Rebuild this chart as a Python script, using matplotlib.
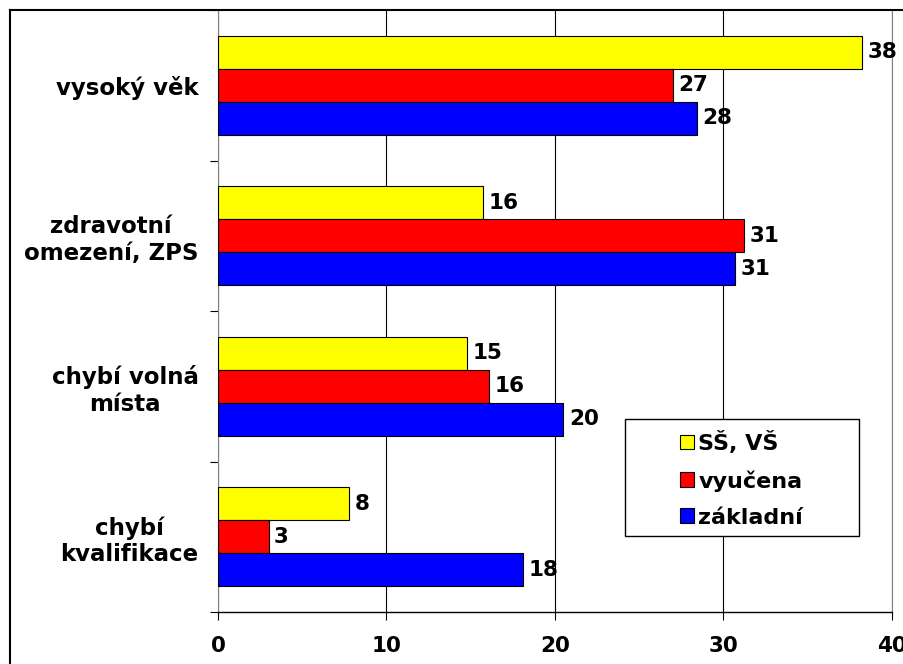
import matplotlib.pyplot as plt
from matplotlib.lines import Line2D
from matplotlib.patches import Rectangle

categories = ["vysoký věk", "zdravotní\nomezení, ZPS", "chybí volná\nmísta", "chybí\nkvalifikace"]
series = ["SŠ, VŠ", "vyučena", "základní"]
ss_vs = [38.2, 15.7, 14.8, 7.8]
vyucena = [27.0, 31.2, 16.1, 3.0]
zakladni = [28.4, 30.7, 20.5, 18.1]
colors = ["#ffff00", "#ff0000", "#0000ff"]
xticks = [0, 10, 20, 30, 40]

plt.rcParams["font.family"] = "DejaVu Sans"
plt.rcParams["font.weight"] = "bold"

W, H = 904, 664
fig = plt.figure(figsize=(W / 100, H / 100), dpi=100)
ax = fig.add_axes([218 / W, 1 - 612 / H, (892 - 218) / W, (612 - 10) / H])

h = 0.22
offsets = [-h, 0, h]
for vals, off, col, name in zip([ss_vs, vyucena, zakladni], offsets, colors, series):
    ys = [i + 0.5 + off for i in range(len(categories))]
    ax.barh(ys, vals, height=h, color=col, edgecolor="black", linewidth=0.8, label=name, zorder=3)
    for y, v in zip(ys, vals):
        ax.annotate(str(round(v)), (v, y), xytext=(4, 0), textcoords="offset points",
                    ha="left", va="center", fontsize=15.5, fontweight="bold", zorder=4)

ax.set_xlim(0, 40)
ax.set_ylim(4, 0)
ax.set_xticks(xticks)
ax.set_xticklabels([str(t) for t in xticks], fontsize=15.5, fontweight="bold")
ax.set_yticks([0, 1, 2, 3, 4])
ax.set_yticklabels([])
ax.set_yticks([i + 0.5 for i in range(len(categories))], categories, minor=True)
for lab in ax.get_yticklabels(minor=True):
    lab.set_multialignment("center")
    lab.set_fontsize(16.5)
    lab.set_fontweight("bold")
ax.tick_params(axis="y", which="minor", length=0, pad=14)
ax.tick_params(axis="y", which="major", length=6, direction="out", width=0.8)
ax.tick_params(axis="x", length=6, direction="out", width=0.8, pad=11)
ax.grid(axis="x", color="black", linewidth=0.8, zorder=0)
ax.spines["top"].set_visible(False)
ax.spines["right"].set_color("#808080")
ax.spines["left"].set_color("#808080")
ax.spines["bottom"].set_linewidth(1.0)

# legend: box drawn separately, entries placed inside
ax.add_patch(Rectangle(((625 - 218) / 674, (612 - 536) / 602), (859 - 625) / 674, (536 - 419) / 602,
                       transform=ax.transAxes, facecolor="white", edgecolor="black",
                       linewidth=1.0, zorder=5))
leg = ax.legend(loc="upper left", bbox_to_anchor=((680 - 218) / 674, (612 - 431) / 602),
                prop={"size": 16, "weight": "bold"}, frameon=False,
                handlelength=0.63, handleheight=0.63, handletextpad=0.2,
                labelspacing=0.72, borderpad=0, borderaxespad=0)
leg.set_zorder(6)

# chart area border
fig.add_artist(Line2D([10 / W, 10 / W], [1 - 10 / H, 0], color="black", linewidth=1.5, transform=fig.transFigure))
fig.add_artist(Line2D([10 / W, 1], [1 - 10 / H, 1 - 10 / H], color="black", linewidth=1.5, transform=fig.transFigure))

fig.savefig("out.png", dpi=100)
